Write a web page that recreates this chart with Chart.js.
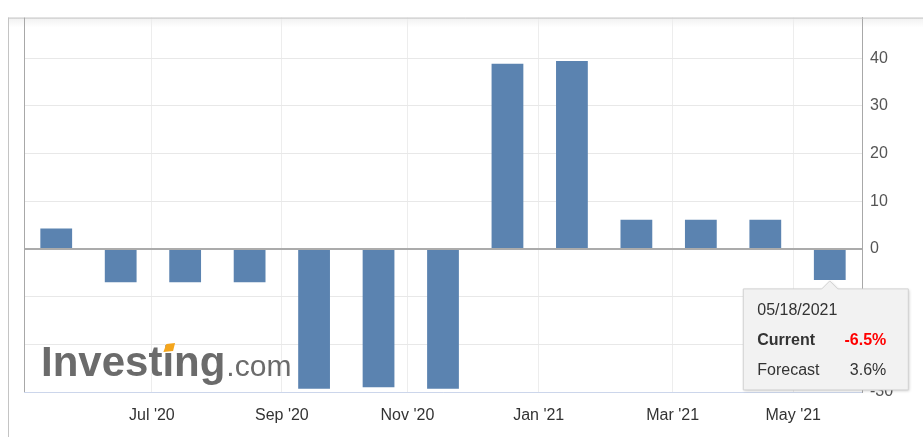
<!DOCTYPE html>
<html>
<head>
<meta charset="utf-8">
<script src="https://cdn.jsdelivr.net/npm/chart.js@4.4.0/dist/chart.umd.min.js"></script>
<style>
  html, body { margin: 0; padding: 0; background: #fff; }
  #wrap { width: 923px; height: 437px; }
</style>
</head>
<body>
<div id="wrap"><canvas id="myChart" width="923" height="437"></canvas></div>
<script>
// Release dates (one bar per release)
let releases = ['05/18/2020', '06/16/2020', '07/17/2020', '08/17/2020', '09/16/2020', '10/19/2020',
                '11/17/2020', '12/16/2020', '01/18/2021', '02/11/2021', '03/15/2021', '04/18/2021', '05/18/2021'];

// Actual values (%)
let actual = [4.3, -7.0, -7.0, -7.0, -29.3, -29.0, -29.3, 38.8, 39.4, 6.1, 6.1, 6.1, -6.5];
let forecast = 3.6;

// X axis ticks (first of month) and their labels
let tickDates  = ['07/01/2020', '09/01/2020', '11/01/2020', '01/01/2021', '03/01/2021', '05/01/2021'];
let tickLabels = ["Jul '20", "Sep '20", "Nov '20", "Jan '21", "Mar '21", "May '21"];

// Y axis ticks
let yTicks = [-30, -20, -10, 0, 10, 20, 30, 40];

function toDay(s) {
    let p = s.split('/');
    return Date.UTC(+p[2], +p[0] - 1, +p[1]) / 86400000;
}
let relDays = releases.map(toDay);

// ordinal axis: a date sits between the two releases around it
function ordinal(s) {
    let d = toDay(s);
    for (let i = 0; i < relDays.length - 1; i++) {
        if (d >= relDays[i] && d <= relDays[i + 1]) {
            return i + (d - relDays[i]) / (relDays[i + 1] - relDays[i]);
        }
    }
    return 0;
}
let tickPos = tickDates.map(ordinal);

let font = "'Liberation Sans', Arial, sans-serif";

let framePlugin = {
    id: 'frame',
    beforeDraw(chart) {
        let c = chart.ctx, a = chart.chartArea;
        c.save();
        c.fillStyle = '#fff';
        c.fillRect(0, 0, chart.width, chart.height);
        // shadow under top border
        let g = c.createLinearGradient(0, a.top, 0, a.top + 10);
        g.addColorStop(0, 'rgba(0,0,0,0.06)');
        g.addColorStop(1, 'rgba(0,0,0,0)');
        c.fillStyle = g;
        c.fillRect(8, a.top, chart.width - 8, 10);
        c.restore();
    },
    beforeDatasetsDraw(chart) {
        // Investing.com watermark
        let c = chart.ctx, a = chart.chartArea;
        let x = a.left + 17, y = a.bottom - 16;
        c.save();
        c.fillStyle = '#6b6b6b';
        c.textBaseline = 'alphabetic';
        c.font = 'bold 42px ' + font;
        c.fillText('Investing', x, y);
        let w = c.measureText('Investing').width;
        let xi = x + c.measureText('Invest').width;
        let wi = c.measureText('i').width;
        c.fillStyle = '#f4a51c';
        c.beginPath();
        c.moveTo(xi + 1, y - 24);
        c.lineTo(xi + wi - 1, y - 25);
        c.lineTo(xi + wi + 1, y - 33);
        c.lineTo(xi + 4, y - 32);
        c.closePath();
        c.fill();
        c.fillStyle = '#6b6b6b';
        c.font = '30px ' + font;
        c.fillText('.com', x + w + 1, y);
        c.restore();
    },
    afterDraw(chart) {
        let c = chart.ctx, a = chart.chartArea;
        c.save();
        c.lineWidth = 1;
        // outer frame
        c.strokeStyle = '#c4c4c4';
        c.beginPath();
        c.moveTo(8, a.top + 0.5);
        c.lineTo(chart.width, a.top + 0.5);
        c.moveTo(8.5, a.top);
        c.lineTo(8.5, chart.height);
        c.stroke();
        // plot left border
        c.strokeStyle = '#a8a8a8';
        c.beginPath();
        c.moveTo(a.left + 0.5, a.top);
        c.lineTo(a.left + 0.5, a.bottom);
        c.stroke();

        // tooltip on last bar
        let meta = chart.getDatasetMeta(0);
        let last = actual.length - 1;
        let bar = meta.data[last];
        let tipY = Math.max(bar.y, bar.base);
        let bx = bar.x - 86.5, by = tipY + 9, bw = 165, bh = 101;
        c.shadowColor = 'rgba(0,0,0,0.2)';
        c.shadowBlur = 3;
        c.shadowOffsetX = 1;
        c.shadowOffsetY = 1;
        c.fillStyle = '#f2f2f2';
        c.beginPath();
        c.moveTo(bx, by);
        c.lineTo(bar.x - 8, by);
        c.lineTo(bar.x, tipY + 1);
        c.lineTo(bar.x + 8, by);
        c.lineTo(bx + bw, by);
        c.lineTo(bx + bw, by + bh);
        c.lineTo(bx, by + bh);
        c.closePath();
        c.fill();
        c.shadowColor = 'transparent';
        c.strokeStyle = '#d2d2d2';
        c.stroke();

        c.font = '16px ' + font;
        c.fillStyle = '#333';
        c.textAlign = 'left';
        c.fillText(releases[last], bx + 14, by + 26);
        c.font = 'bold 16px ' + font;
        c.fillText('Current', bx + 14, by + 56);
        c.fillStyle = '#ff0000';
        c.textAlign = 'right';
        c.fillText(actual[last].toFixed(1) + '%', bx + bw - 22, by + 56);
        c.font = '16px ' + font;
        c.fillStyle = '#333';
        c.textAlign = 'left';
        c.fillText('Forecast', bx + 14, by + 86);
        c.textAlign = 'right';
        c.fillText(forecast.toFixed(1) + '%', bx + bw - 22, by + 86);
        c.restore();
    }
};

let ctx = document.getElementById('myChart').getContext('2d');
let myChart = new Chart(ctx, {
    type: 'bar',
    data: {
        datasets: [
            {
                data: actual.map((v, i) => ({ x: i, y: v })),
                backgroundColor: '#5b83b0',
                barPercentage: 0.493,
                categoryPercentage: 1
            }
        ]
    },
    options: {
        responsive: false,
        animation: false,
        events: [],
        devicePixelRatio: 1,
        layout: { padding: { left: 24, top: 16, right: 0, bottom: 0 } },
        plugins: {
            legend: { display: false },
            tooltip: { enabled: false }
        },
        scales: {
            x: {
                type: 'linear',
                offset: false,
                min: -0.5,
                max: releases.length - 0.5,
                afterBuildTicks: scale => { scale.ticks = tickPos.map(v => ({ value: v })); },
                afterFit: scale => { scale.height = 45; },
                grid: { color: '#ededed', drawTicks: false, offset: false },
                border: { color: '#ccd6eb' },
                ticks: {
                    padding: 14,
                    maxRotation: 0,
                    autoSkip: false,
                    color: '#333',
                    font: { family: font, size: 16 },
                    callback: (v, i) => tickLabels[i]
                }
            },
            y: {
                position: 'right',
                min: -30,
                max: 48.5,
                afterBuildTicks: scale => { scale.ticks = yTicks.map(v => ({ value: v })); },
                afterFit: scale => { scale.width = 61; },
                grid: {
                    color: c => c.tick && c.tick.value === 0 ? '#ababab' : '#e8e8e8',
                    lineWidth: c => c.tick && c.tick.value === 0 ? 2 : 1,
                    drawTicks: false
                },
                border: { color: '#a8a8a8' },
                ticks: {
                    padding: 8,
                    color: '#555',
                    font: { family: font, size: 16 }
                }
            }
        }
    },
    plugins: [framePlugin]
});
</script>
</body>
</html>
